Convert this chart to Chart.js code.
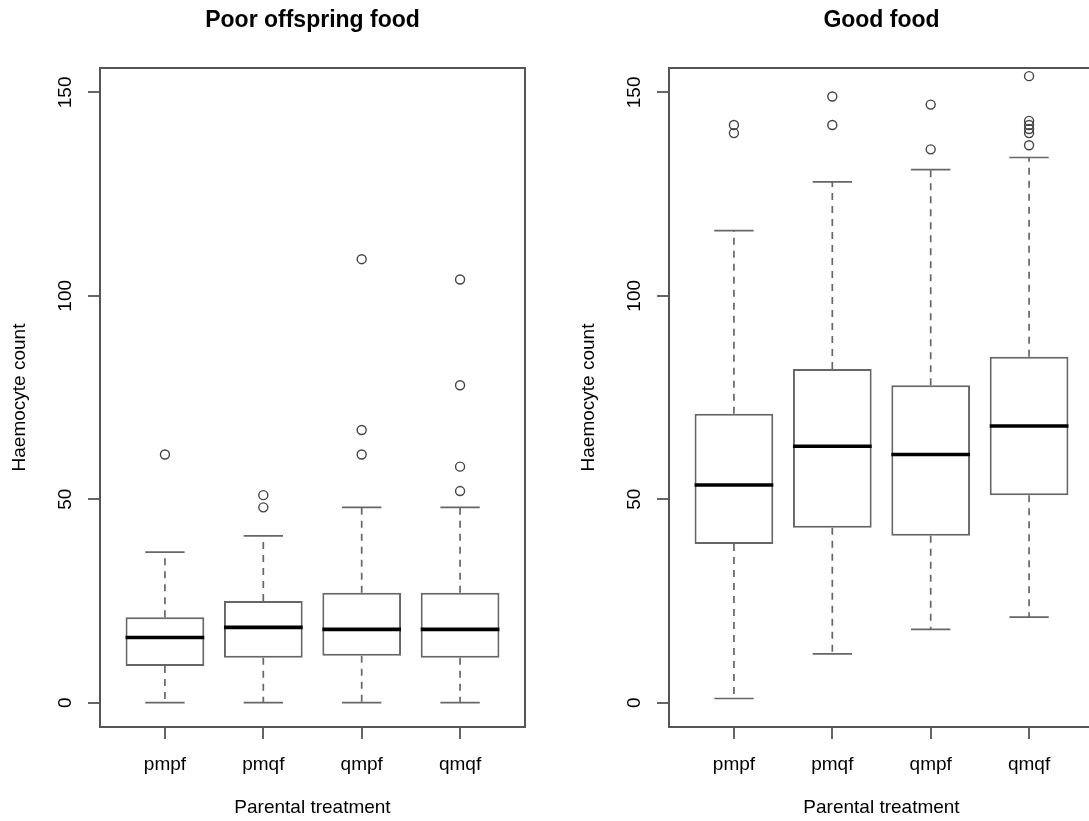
<!DOCTYPE html>
<html>
<head>
<meta charset="utf-8">
<script src="https://cdn.jsdelivr.net/npm/chart.js@4.4.1/dist/chart.umd.min.js"></script>
<style>
  html, body { margin: 0; padding: 0; background: #fff; width: 1089px; height: 821px; overflow: hidden; }
  .panel { position: absolute; top: 0; }
  #poor { left: 0; }
  #good { left: 569px; }
</style>
</head>
<body>
<canvas id="poor" class="panel" width="569" height="821"></canvas>
<canvas id="good" class="panel" width="569" height="821"></canvas>
<script>
// Parental treatment groups (x axis)
const categories = ['pmpf', 'pmqf', 'qmpf', 'qmqf'];
// Shared y axis ticks
const yTicks = [0, 50, 100, 150];

// Poor offspring food: five-number summaries and outliers per group
const poorLower  = [0, 0, 0, 0];
const poorQ1     = [9, 11, 11.5, 11];
const poorMedian = [16, 18.5, 18, 18];
const poorQ3     = [21, 25, 27, 27];
const poorUpper  = [37, 41, 48, 48];
const poorOutliers = [[61], [51, 48], [109, 67, 61], [104, 78, 58, 52]];

// Good food: five-number summaries and outliers per group
const goodLower  = [1, 12, 18, 21];
const goodQ1     = [39, 43, 41, 51];
const goodMedian = [53.5, 63, 61, 68];
const goodQ3     = [71, 82, 78, 85];
const goodUpper  = [116, 128, 131, 134];
const goodOutliers = [[142, 140], [149, 142], [147, 136], [154, 143, 142, 141, 140, 137]];

const BOX_WIDTH = 0.8;     // box width in x units (R boxwex)
const LINE = '#666';
const FRAME = '#555';
const FONT = "'Liberation Sans', Arial, Helvetica, sans-serif";

Chart.defaults.font.family = FONT;
Chart.defaults.font.size = 19;
Chart.defaults.color = '#000';

// Whiskers, staples, medians and the plot frame, positioned through the chart scales
const boxplotParts = {
  id: 'boxplotParts',
  afterDatasetsDraw(chart, args, opts) {
    const { ctx, scales: { x, y } } = chart;
    const s = opts.stats;
    ctx.save();
    s.median.forEach((m, i) => {
      const cx = x.getPixelForValue(i + 1);
      const half = x.getPixelForValue(i + 1 + BOX_WIDTH / 2) - cx;
      const staple = half / 2;
      // dashed whiskers
      ctx.strokeStyle = LINE;
      ctx.lineWidth = 1.7;
      ctx.setLineDash([7, 6]);
      ctx.beginPath();
      ctx.moveTo(cx, y.getPixelForValue(s.q3[i]));
      ctx.lineTo(cx, y.getPixelForValue(s.upper[i]));
      ctx.moveTo(cx, y.getPixelForValue(s.q1[i]));
      ctx.lineTo(cx, y.getPixelForValue(s.lower[i]));
      ctx.stroke();
      // staples
      ctx.setLineDash([]);
      ctx.beginPath();
      [s.upper[i], s.lower[i]].forEach(v => {
        const py = y.getPixelForValue(v);
        ctx.moveTo(cx - staple, py);
        ctx.lineTo(cx + staple, py);
      });
      ctx.stroke();
      // median
      ctx.strokeStyle = '#000';
      ctx.lineWidth = 3.6;
      ctx.beginPath();
      const my = y.getPixelForValue(m);
      ctx.moveTo(cx - half, my);
      ctx.lineTo(cx + half, my);
      ctx.stroke();
    });
    const a = chart.chartArea;
    ctx.strokeStyle = FRAME;
    ctx.lineWidth = 2;
    ctx.strokeRect(a.left, a.top, a.right - a.left, a.bottom - a.top);
    ctx.restore();
  }
};

function makeChart(id, title, stats) {
  const boxes = categories.map((c, i) => ({ x: i + 1, y: [stats.q1[i], stats.q3[i]] }));
  const points = stats.outliers.flatMap((list, i) => list.map(v => ({ x: i + 1, y: v })));
  return new Chart(document.getElementById(id), {
    type: 'bar',
    data: {
      datasets: [
        {
          type: 'bar',
          data: boxes,
          backgroundColor: '#fff',
          borderColor: LINE,
          borderWidth: 2,
          borderSkipped: false,
          categoryPercentage: BOX_WIDTH,
          barPercentage: 1
        },
        {
          type: 'scatter',
          data: points,
          pointStyle: 'circle',
          pointRadius: 4.5,
          borderWidth: 1.4,
          borderColor: '#444',
          backgroundColor: 'rgba(0,0,0,0)'
        }
      ]
    },
    options: {
      responsive: false,
      animation: false,
      layout: { padding: { left: 0, right: 44, top: 0, bottom: 0 } },
      plugins: {
        legend: { display: false },
        tooltip: { enabled: false },
        title: {
          display: true,
          text: title,
          fullSize: false,
          color: '#000',
          font: { size: 23, weight: 'bold', lineHeight: 1.2 },
          padding: { top: 7.2, bottom: 33.2 }
        },
        boxplotParts: { stats }
      },
      scales: {
        x: {
          type: 'linear',
          min: 0.34,
          max: 4.66,
          offset: false,
          afterBuildTicks: s => { s.ticks = categories.map((c, i) => ({ value: i + 1 })); },
          afterFit: s => { s.height = 94; },
          ticks: {
            autoSkip: false,
            maxRotation: 0,
            padding: 14.5,
            callback: v => categories[v - 1]
          },
          grid: { offset: false, drawOnChartArea: false, drawTicks: true, tickLength: 12, color: LINE, lineWidth: 2 },
          border: { display: false },
          title: { display: true, text: 'Parental treatment', padding: { top: 0, bottom: 2.1 } }
        },
        y: {
          type: 'linear',
          min: -6,
          max: 156,
          afterBuildTicks: s => { s.ticks = yTicks.map(v => ({ value: v })); },
          afterFit: s => { s.width = 100; },
          ticks: {
            minRotation: 90,
            maxRotation: 90,
            crossAlign: 'center',
            padding: 6.6
          },
          grid: { drawOnChartArea: false, drawTicks: true, tickLength: 12, color: LINE, lineWidth: 2 },
          border: { display: false },
          title: { display: true, text: 'Haemocyte count', padding: { top: 8.1, bottom: 0 } }
        }
      }
    },
    plugins: [boxplotParts]
  });
}

makeChart('poor', 'Poor offspring food', {
  lower: poorLower, q1: poorQ1, median: poorMedian, q3: poorQ3, upper: poorUpper, outliers: poorOutliers
});
makeChart('good', 'Good food', {
  lower: goodLower, q1: goodQ1, median: goodMedian, q3: goodQ3, upper: goodUpper, outliers: goodOutliers
});
</script>
</body>
</html>
